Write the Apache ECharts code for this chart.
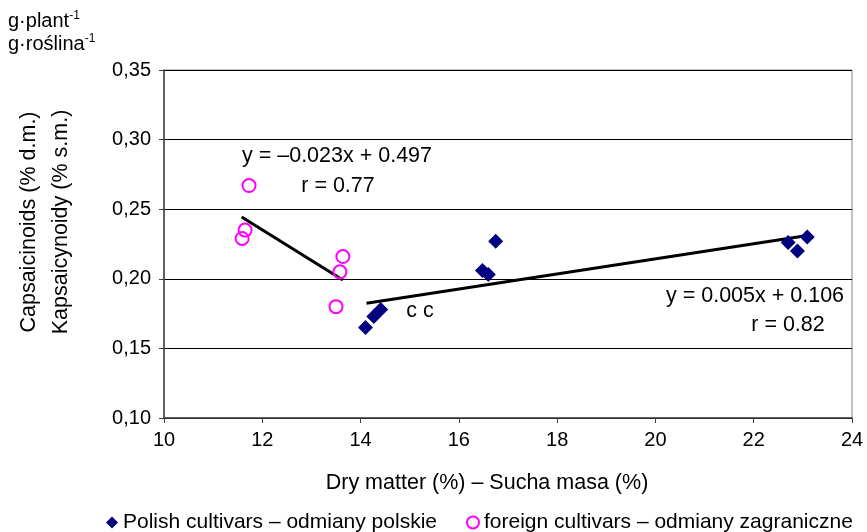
<!DOCTYPE html>
<html><head><meta charset="utf-8">
<script src="https://cdn.jsdelivr.net/npm/echarts@6/dist/echarts.min.js"></script>
<style>html,body{margin:0;padding:0;background:#fff}#c{width:867px;height:532px}</style>
</head><body><div id="c"></div>
<script>
const polishX = [14.1, 14.27, 14.41, 16.48, 16.6, 16.75, 22.7, 22.89, 23.09];
const polishY = [0.165, 0.173, 0.178, 0.206, 0.203, 0.227, 0.226, 0.220, 0.230];
const foreignX = [11.73, 11.65, 11.59, 13.64, 13.58, 13.5];
const foreignY = [0.267, 0.235, 0.229, 0.216, 0.205, 0.180];
const foreignTrendX = [11.58, 13.64];
const foreignTrendY = [0.2444, 0.1991];
const polishTrendX = [14.12, 23.06];
const polishTrendY = [0.1824, 0.231];
const xTicks = [10, 12, 14, 16, 18, 20, 22, 24];
const yTicks = [0.10, 0.15, 0.20, 0.25, 0.30, 0.35];

const zip = (a, b) => a.map((v, i) => [v, b[i]]);
const F = 'Liberation Sans, Arial, sans-serif';
const FS = 20;
const FT = 21.5;
const txt = (x, y, t, extra) => Object.assign({type: 'text', x: x, y: y, z: 10,
  style: {text: t, fontSize: FT, fontFamily: F, fill: '#000', align: 'center', verticalAlign: 'middle'}}, extra || {});
const legendBase = {top: 512, padding: 0, itemGap: 0, itemWidth: 12, itemHeight: 12,
  textStyle: {fontSize: 21, color: '#000', fontFamily: F}};
const chart = echarts.init(document.getElementById('c'));
chart.setOption({
  animation: false,
  textStyle: {fontFamily: F},
  grid: {left: 164, right: 15, top: 70, bottom: 114, show: true, borderColor: '#808080', borderWidth: 1},
  xAxis: {
    type: 'value', min: 10, max: 24, interval: 2,
    name: 'Dry matter (%) – Sucha masa (%)', nameLocation: 'middle', nameGap: 54,
    nameTextStyle: {fontSize: FT, color: '#000', fontFamily: F, padding: [0, 42, 0, 0]},
    axisLine: {lineStyle: {color: '#404040', width: 1.5}},
    axisTick: {show: true, length: 5, lineStyle: {color: '#404040'}},
    axisLabel: {fontSize: FS, color: '#000', margin: 12, fontFamily: F},
    splitLine: {show: false}
  },
  yAxis: {
    type: 'value', min: 0.10, max: 0.35, interval: 0.05,
    axisLine: {show: true, lineStyle: {color: '#404040', width: 1.5}},
    axisTick: {show: true, length: 5, lineStyle: {color: '#404040'}},
    axisLabel: {fontSize: FS, color: '#000', margin: 13, fontFamily: F,
      formatter: v => v.toFixed(2).replace('.', ',')},
    splitLine: {show: true, lineStyle: {color: '#000', width: 1}}
  },
  legend: [
    Object.assign({}, legendBase, {left: 106, data: [
      {name: 'Polish cultivars – odmiany polskie', icon: 'diamond', itemStyle: {color: '#000080'}}]}),
    Object.assign({}, legendBase, {left: 466, data: [
      {name: 'foreign cultivars – odmiany zagraniczne', icon: 'circle',
       itemStyle: {color: '#ffffff', borderColor: '#ff00ff', borderWidth: 2}}]})
  ],
  series: [
    {name: 'foreign trend', type: 'line', data: zip(foreignTrendX, foreignTrendY), symbol: 'none',
     lineStyle: {color: '#000', width: 3}, z: 3},
    {name: 'polish trend', type: 'line', data: zip(polishTrendX, polishTrendY), symbol: 'none',
     lineStyle: {color: '#000', width: 3}, z: 3},
    {name: 'Polish cultivars – odmiany polskie', type: 'scatter', symbol: 'diamond', symbolSize: 15,
     itemStyle: {color: '#000080', opacity: 1}, data: zip(polishX, polishY), z: 4},
    {name: 'foreign cultivars – odmiany zagraniczne', type: 'scatter', symbol: 'circle', symbolSize: 13,
     itemStyle: {color: 'rgba(255,255,255,0)', borderColor: '#ff00ff', borderWidth: 2, opacity: 1},
     data: zip(foreignX, foreignY), z: 4}
  ],
  graphic: [
    {type: 'text', left: 8, top: 10, style: {text: '{a|g·plant}{s|-1}', rich: {a: {fontSize: FS, fontFamily: F, fill: '#000'}, s: {fontSize: 12, fontFamily: F, fill: '#000', verticalAlign: 'top', padding: [0,0,10,0]}}}},
    {type: 'text', left: 8, top: 33, style: {text: '{a|g·roślina}{s|-1}', rich: {a: {fontSize: FS, fontFamily: F, fill: '#000'}, s: {fontSize: 12, fontFamily: F, fill: '#000', verticalAlign: 'top', padding: [0,0,10,0]}}}},
    txt(29, 222, 'Capsaicinoids (% d.m.)', {rotation: Math.PI / 2}),
    txt(61, 222, 'Kapsaicynoidy (% s.m.)', {rotation: Math.PI / 2}),
    txt(337, 156, 'y = –0.023x + 0.497'),
    txt(338, 186, 'r = 0.77'),
    txt(755, 296, 'y = 0.005x + 0.106'),
    txt(788, 325, 'r = 0.82'),
    txt(420, 311, 'c c')
  ]
});
</script></body></html>
